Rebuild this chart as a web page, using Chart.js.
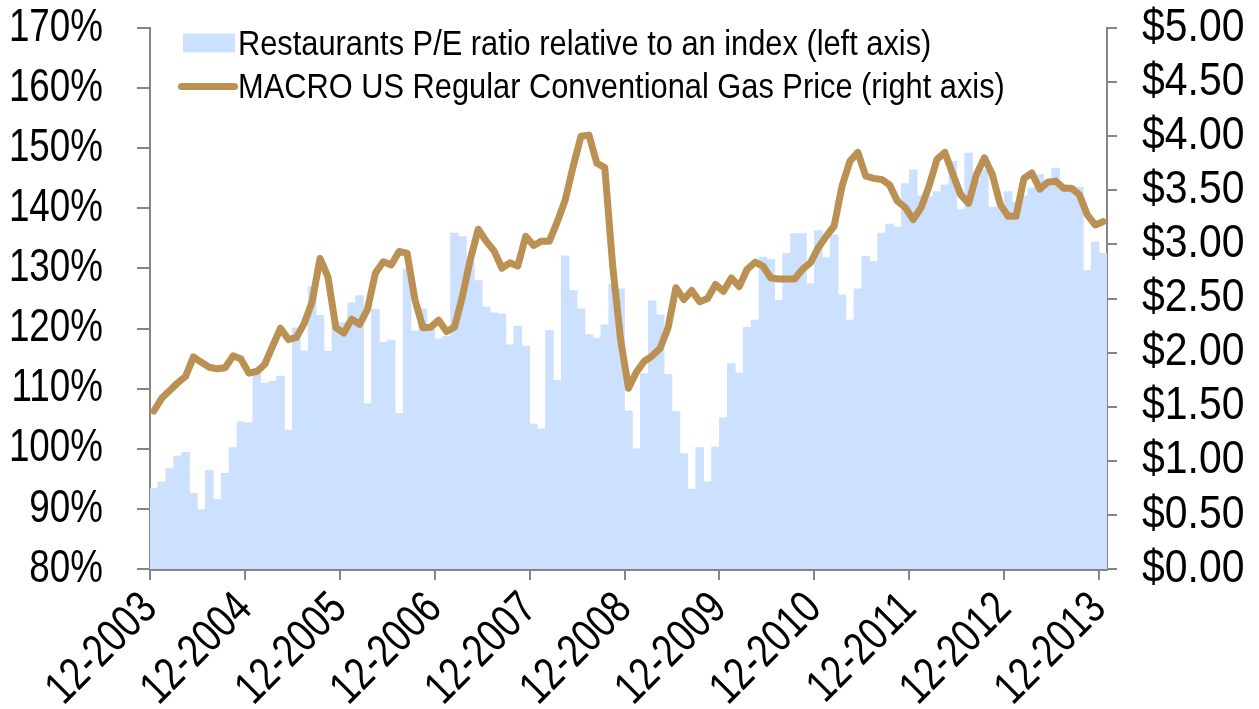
<!DOCTYPE html>
<html>
<head>
<meta charset="utf-8">
<script src="https://cdn.jsdelivr.net/npm/chart.js@4.4.1/dist/chart.umd.min.js"></script>
<style>
  html,body{margin:0;padding:0;background:#fff;}
  #wrap{width:1259px;height:709px;position:relative;}
</style>
</head>
<body>
<div id="wrap"><canvas id="c" width="1259" height="709"></canvas></div>
<script>
// ---- DATA (monthly, 12-2003 .. 12-2013) ----
const startYear = 2003;
const months = [];
for (let k = 0; k < 121; k++) {
  const m = ((11 + k) % 12) + 1;
  const y = startYear + Math.floor((11 + k) / 12);
  months.push((m < 10 ? '0' : '') + m + '-' + y);
}

// Restaurants P/E ratio relative to an index (%), left axis
const peRelative = [
  93.4, 94.5, 96.7, 98.8, 99.4, 92.6, 89.9, 96.4, 91.6, 95.9, 100.2, 104.5,
  104.3, 113.3, 110.9, 111.2, 112.1, 103.1, 120.1, 116.3, 127.0, 122.2, 116.2, 121.0,
  121.0, 124.3, 125.5, 107.5, 123.2, 117.7, 118.1, 105.9, 129.9, 119.6, 123.3, 120.0,
  118.3, 118.7, 135.9, 135.3, 131.0, 128.0, 123.6, 122.6, 122.4, 117.3, 120.4, 117.1,
  104.1, 103.3, 119.7, 111.4, 132.1, 126.3, 123.3, 119.0, 118.4, 120.6, 127.4, 126.6,
  106.3, 100.0, 112.5, 124.6, 122.3, 112.4, 106.2, 99.2, 93.3, 100.2, 94.5, 100.3,
  105.2, 114.2, 112.6, 120.2, 121.4, 131.9, 131.5, 124.7, 132.5, 135.8, 135.8, 127.5,
  136.3, 131.8, 135.6, 125.6, 121.4, 126.6, 132.0, 131.2, 135.9, 137.4, 136.9, 144.1,
  146.4, 142.1, 142.0, 142.8, 143.9, 147.8, 139.8, 149.2, 144.5, 146.5, 140.2, 140.2,
  142.8, 141.0, 142.1, 143.4, 145.6, 143.9, 146.7, 143.9, 143.7, 143.5, 129.7, 134.4,
  132.5
];

// MACRO US Regular Conventional Gas Price ($), right axis
const gasPrice = [
  1.46, 1.58, 1.65, 1.72, 1.78, 1.96, 1.91, 1.865, 1.85, 1.86, 1.97, 1.94,
  1.81, 1.825, 1.89, 2.06, 2.225, 2.12, 2.14, 2.27, 2.47, 2.87, 2.70, 2.23,
  2.18, 2.31, 2.26, 2.40, 2.735, 2.84, 2.81, 2.935, 2.92, 2.49, 2.23, 2.235,
  2.30, 2.195, 2.235, 2.52, 2.86, 3.14, 3.03, 2.94, 2.78, 2.83, 2.80, 3.075,
  2.99, 3.03, 3.03, 3.21, 3.41, 3.72, 4.00, 4.01, 3.75, 3.71, 2.80, 2.12,
  1.67, 1.82, 1.92, 1.97, 2.04, 2.23, 2.60, 2.49, 2.575, 2.47, 2.50, 2.63,
  2.565, 2.69, 2.61, 2.77, 2.835, 2.80, 2.69, 2.68, 2.68, 2.68, 2.77, 2.83,
  2.97, 3.075, 3.17, 3.54, 3.77, 3.85, 3.63, 3.61, 3.60, 3.55, 3.40, 3.34,
  3.23, 3.34, 3.54, 3.785, 3.85, 3.65, 3.46, 3.38, 3.645, 3.80, 3.645, 3.37,
  3.26, 3.26, 3.61, 3.66, 3.51, 3.575, 3.585, 3.52, 3.52, 3.46, 3.275, 3.18,
  3.21
];

const xTickLabels = ['12-2003','12-2004','12-2005','12-2006','12-2007','12-2008',
                     '12-2009','12-2010','12-2011','12-2012','12-2013'];
const leftTicks = [80, 90, 100, 110, 120, 130, 140, 150, 160, 170];
const rightTicks = [0, 0.5, 1, 1.5, 2, 2.5, 3, 3.5, 4, 4.5, 5];
const seriesNames = ['Restaurants P/E ratio relative to an index (left axis)',
                     'MACRO US Regular Conventional Gas Price (right axis)'];

// ---- STYLE ----
const BAR_COLOR = '#CCE0FF';
const LINE_COLOR = '#BA9152';
const AXIS_COLOR = '#858585';
const FONT = "'Liberation Sans', Arial, sans-serif";
const TICK_CONDENSE = 0.8;     // narrow-face look for axis labels
const DOLLAR_CONDENSE = 0.89;  // right-axis labels are a bit wider
const LEGEND_CONDENSE = 0.88;  // narrow-face look for legend

const xTickIndex = xTickLabels.map(l => months.indexOf(l));

// Draw all canvas text horizontally condensed (imitates a "Narrow" face)
const condensePlugin = {
  id: 'condense',
  beforeDraw(chart) {
    const ctx = chart.ctx;
    if (ctx._origFillText) return;
    const orig = ctx.fillText;
    ctx._origFillText = orig;
    ctx.fillText = function (text, x, y) {
      const m = /(\d+(?:\.\d+)?)px/.exec(this.font);
      const size = m ? parseFloat(m[1]) : 12;
      let k = size >= 40 ? TICK_CONDENSE : LEGEND_CONDENSE;
      if (String(text).charAt(0) === '$') k = DOLLAR_CONDENSE;
      this.save();
      this.translate(x, y);
      this.scale(k, 1);
      orig.call(this, text, 0, 0);
      this.restore();
    };
  }
};

const legendPlugin = {
  id: 'insideLegend',
  afterDraw(chart) {
    const ctx = chart.ctx;
    ctx.save();
    ctx.fillStyle = BAR_COLOR;
    ctx.fillRect(183, 33.5, 52, 19);
    ctx.strokeStyle = LINE_COLOR;
    ctx.lineWidth = 7;
    ctx.lineCap = 'round';
    ctx.beginPath();
    ctx.moveTo(181.5, 86.5);
    ctx.lineTo(234.5, 86.5);
    ctx.stroke();
    ctx.fillStyle = '#000';
    ctx.font = '35px ' + FONT;
    ctx.textBaseline = 'alphabetic';
    ctx.textAlign = 'left';
    ctx.fillText(seriesNames[0], 238, 55);
    ctx.fillText(seriesNames[1], 238, 98);
    ctx.restore();
  }
};

const zeroPad = (s) => { s.paddingTop = 0; s.paddingBottom = 0; s.paddingLeft = 0; s.paddingRight = 0; };

new Chart(document.getElementById('c'), {
  data: {
    datasets: [
      {
        type: 'line',
        label: seriesNames[1],
        data: gasPrice.map((v, i) => ({ x: i + 0.5, y: v })),
        yAxisID: 'y1',
        borderColor: LINE_COLOR,
        borderWidth: 7,
        borderJoinStyle: 'round',
        borderCapStyle: 'round',
        pointRadius: 0,
        tension: 0,
        order: 0
      },
      {
        type: 'bar',
        label: seriesNames[0],
        data: peRelative.map((v, i) => ({ x: i + 0.5, y: v })),
        yAxisID: 'y',
        backgroundColor: BAR_COLOR,
        borderWidth: 0,
        barPercentage: 1.0,
        categoryPercentage: 1.0,
        order: 1
      }
    ]
  },
  options: {
    responsive: false,
    animation: false,
    layout: { padding: { top: 28, left: 0, right: 0, bottom: 0 } },
    plugins: { legend: { display: false }, tooltip: { enabled: false } },
    scales: {
      x: {
        type: 'linear',
        position: 'bottom',
        offset: false,
        min: 0,
        max: months.length,
        afterBuildTicks: (s) => { s.ticks = xTickIndex.map(v => ({ value: v })); },
        afterFit: (s) => { s.height = 140; zeroPad(s); },
        ticks: {
          autoSkip: false,
          minRotation: 45,
          maxRotation: 45,
          padding: 2,
          color: '#000',
          font: { family: FONT, size: 46 },
          callback: (v) => { const k = xTickIndex.indexOf(v); return k >= 0 ? xTickLabels[k] : ''; }
        },
        grid: { offset: false, drawOnChartArea: false, drawTicks: true, tickLength: 11, color: AXIS_COLOR, lineWidth: 2 },
        border: { display: true, color: AXIS_COLOR, width: 3 }
      },
      y: {
        type: 'linear',
        position: 'left',
        min: 80,
        max: 170,
        afterBuildTicks: (s) => { s.ticks = leftTicks.map(v => ({ value: v })); },
        afterFit: (s) => { s.width = 150; zeroPad(s); },
        ticks: {
          autoSkip: false,
          padding: 34,
          color: '#000',
          font: { family: FONT, size: 46 },
          callback: (v) => v + '%'
        },
        grid: { drawOnChartArea: false, drawTicks: true, tickLength: 13, color: AXIS_COLOR, lineWidth: 2 },
        border: { display: true, color: AXIS_COLOR, width: 2 }
      },
      y1: {
        type: 'linear',
        position: 'right',
        min: 0,
        max: 5,
        afterBuildTicks: (s) => { s.ticks = rightTicks.map(v => ({ value: v })); },
        afterFit: (s) => { s.width = 152; zeroPad(s); },
        ticks: {
          autoSkip: false,
          padding: 25,
          color: '#000',
          font: { family: FONT, size: 46 },
          callback: (v) => '$' + Number(v).toFixed(2)
        },
        grid: { drawOnChartArea: false, drawTicks: true, tickLength: 10, color: AXIS_COLOR, lineWidth: 2 },
        border: { display: true, color: AXIS_COLOR, width: 2 }
      }
    }
  },
  plugins: [condensePlugin, legendPlugin]
});
</script>
</body>
</html>
